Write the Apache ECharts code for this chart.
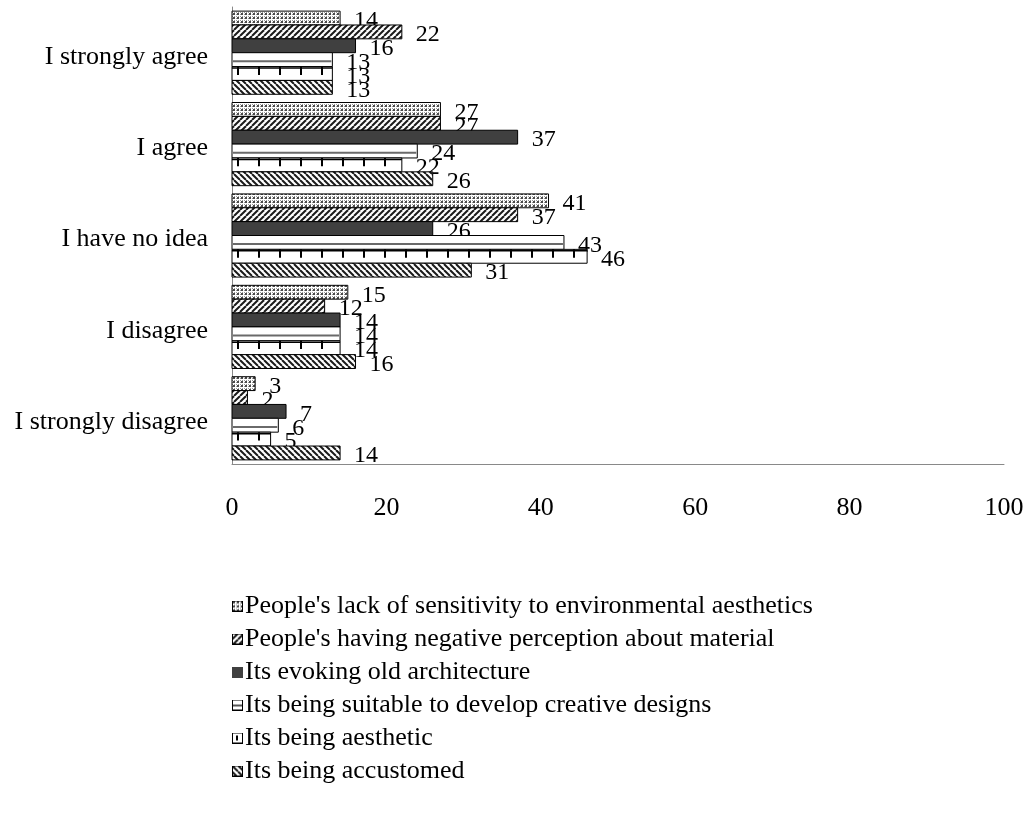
<!DOCTYPE html>
<html>
<head>
<meta charset="utf-8">
<script src="https://cdn.jsdelivr.net/npm/echarts@6/dist/echarts.min.js"></script>
<style>
  html, body { margin: 0; padding: 0; background: #fff; }
  #main { width: 1035px; height: 814px; }
</style>
</head>
<body>
<div id="main"></div>
<script>
// categories, bottom to top as echarts draws them
var cats = ['I strongly disagree', 'I disagree', 'I have no idea', 'I agree', 'I strongly agree'];
var xTicks = [0, 20, 40, 60, 80, 100];

var lackSensitivity = [3, 15, 41, 27, 14];
var negativePerception = [2, 12, 37, 27, 22];
var oldArchitecture = [7, 14, 26, 37, 16];
var creativeDesigns = [6, 14, 43, 24, 13];
var aesthetic = [5, 14, 46, 22, 13];
var accustomed = [14, 16, 31, 26, 13];

var names = [
    "People's lack of sensitivity to environmental aesthetics",
    "People's having negative perception about material",
    "Its evoking old architecture",
    "Its being suitable to develop creative designs",
    "Its being aesthetic",
    "Its being accustomed"
];
var values = [lackSensitivity, negativePerception, oldArchitecture, creativeDesigns, aesthetic, accustomed];

var FONT = '"Liberation Serif", "Times New Roman", serif';

// small canvas tiles for the fills
function tile(w, h, draw) {
    var c = document.createElement('canvas');
    c.width = w; c.height = h;
    var ctx = c.getContext('2d');
    ctx.fillStyle = '#fff';
    ctx.fillRect(0, 0, w, h);
    draw(ctx, w, h);
    return c;
}
var dotTile = tile(4, 4, function (ctx) {
    ctx.fillStyle = '#4a4a4a';
    ctx.fillRect(1, 1, 2, 2);
    ctx.fillStyle = '#9a9a9a';
    ctx.fillRect(0, 0, 1, 1);
    ctx.fillRect(0, 2, 1, 1);
    ctx.fillRect(2, 0, 1, 1);
});
function hatch(dir) {
    return tile(6, 6, function (ctx, w, h) {
        ctx.strokeStyle = '#1a1a1a';
        ctx.lineWidth = 2;
        for (var o = -w; o <= w; o += w) {
            ctx.beginPath();
            if (dir > 0) { ctx.moveTo(o, h); ctx.lineTo(o + w, 0); }
            else { ctx.moveTo(o, 0); ctx.lineTo(o + w, h); }
            ctx.stroke();
        }
    });
}
var slashTile = hatch(1);
var backTile = hatch(-1);

var fills = [
    { image: dotTile, repeat: 'repeat' },
    { image: slashTile, repeat: 'repeat' },
    '#404040',
    '#fff',
    '#fff',
    { image: backTile, repeat: 'repeat' }
];

// legend icons 11x11
function legendIcon(k) {
    var c = tile(11, 11, function (ctx) {
        if (k === 2) { ctx.fillStyle = '#404040'; ctx.fillRect(0, 0, 11, 11); return; }
        if (k === 0 || k === 1 || k === 5) {
            ctx.fillStyle = ctx.createPattern([dotTile, slashTile, null, null, null, backTile][k], 'repeat');
            ctx.fillRect(0, 0, 11, 11);
        }
        ctx.strokeStyle = '#000';
        ctx.lineWidth = 1;
        if (k === 3) {
            ctx.fillStyle = '#555';
            ctx.fillRect(1, 5, 9, 2);
        }
        if (k === 4) {
            ctx.fillStyle = '#000';
            ctx.fillRect(4, 3, 2, 5);
        }
        ctx.strokeRect(0.5, 0.5, 10, 10);
    });
    return 'image://' + c.toDataURL();
}

var BAR_SHARE = 0.91; // part of band filled by the 6 bars

function renderBar(params, api) {
    var k = params.seriesIndex;
    var val = api.value(0);
    var cat = api.value(1);
    var p0 = api.coord([0, cat]);
    var p1 = api.coord([val, cat]);
    var band = api.size([0, 1])[1];
    var bw = band * BAR_SHARE / 6;
    var top = p0[1] - 3 * bw + k * bw;
    var x0 = p0[0], x1 = p1[0];
    var kids = [{
        type: 'rect',
        shape: { x: x0, y: top, width: x1 - x0, height: bw },
        style: { fill: fills[k], stroke: '#000', lineWidth: 1 }
    }];
    if (k === 3) {
        kids.push({
            type: 'line',
            shape: { x1: x0 + 1, y1: top + bw * 0.62, x2: x1 - 1, y2: top + bw * 0.62 },
            style: { stroke: '#6a6a6a', lineWidth: 2 }
        });
    }
    if (k === 4) {
        kids.push({
            type: 'line',
            shape: { x1: x0, y1: top + 1.5, x2: x1, y2: top + 1.5 },
            style: { stroke: '#000', lineWidth: 1.5 }
        });
        for (var tx = x0 + 6; tx < x1 - 2; tx += 21) {
            kids.push({
                type: 'line',
                shape: { x1: tx, y1: top, x2: tx, y2: top + bw * 0.6 },
                style: { stroke: '#000', lineWidth: 2 }
            });
        }
    }
    kids.push({
        type: 'text',
        style: {
            text: String(val),
            x: x1 + 14, y: top + bw / 2 + 3,
            verticalAlign: 'middle', align: 'left',
            font: '24px ' + FONT, fill: '#000'
        }
    });
    return { type: 'group', children: kids };
}

var chart = echarts.init(document.getElementById('main'));
var series = names.map(function (n, k) {
    return {
        name: n,
        type: 'custom',
        renderItem: renderBar,
        itemStyle: { color: typeof fills[k] === 'string' ? fills[k] : '#888' },
        encode: { x: 0, y: 1 },
        data: values[k].map(function (v, i) { return [v, i]; })
    };
});

var option = {
    animation: false,
    backgroundColor: '#fff',
    grid: { left: 232, right: 31, top: 7, bottom: 350 },
    xAxis: {
        type: 'value',
        min: xTicks[0],
        max: xTicks[xTicks.length - 1],
        interval: 20,
        axisLine: { show: true, lineStyle: { color: '#898989', width: 1 } },
        axisTick: { show: false },
        splitLine: { show: false },
        axisLabel: { margin: 31, color: '#000', fontSize: 26, fontFamily: FONT }
    },
    yAxis: {
        type: 'category',
        data: cats,
        axisLine: { show: true, lineStyle: { color: '#898989', width: 1 } },
        axisTick: { show: false },
        axisLabel: {
            margin: 24, color: '#000', fontSize: 26, fontFamily: FONT,
            formatter: function (v) { return '{c|' + v + '}'; },
            rich: { c: { fontSize: 26, fontFamily: FONT, color: '#000', padding: [8, 0, 0, 0] } }
        }
    },
    legend: {
        orient: 'vertical',
        left: 232,
        top: 593,
        padding: 0,
        itemWidth: 11,
        itemHeight: 11,
        itemGap: 7,
        selectedMode: false,
        textStyle: { color: '#000', fontSize: 26, lineHeight: 26, fontFamily: FONT, padding: [0, 0, 0, -3] },
        data: names.map(function (n, k) { return { name: n, icon: legendIcon(k) }; })
    },
    series: series
};
chart.setOption(option);
</script>
</body>
</html>
